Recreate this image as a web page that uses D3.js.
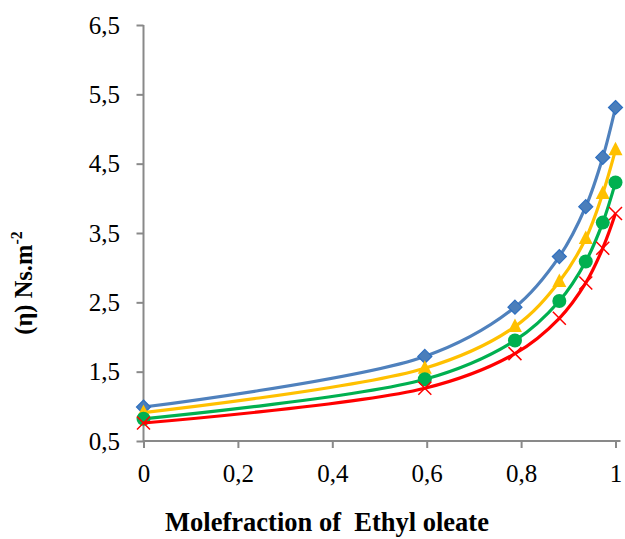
<!DOCTYPE html>
<html>
<head>
<meta charset="utf-8">
<script src="https://cdn.jsdelivr.net/npm/d3@7"></script>
<style>
  html, body { margin: 0; padding: 0; background: #fff; }
  svg { display: block; }
  text { font-family: "Liberation Serif", "Times New Roman", serif; fill: #000; }
</style>
</head>
<body>
<div id="chart"></div>
<script>
// mole fraction of ethyl oleate
const moleFraction = [0, 0.596, 0.787, 0.881, 0.937, 0.973, 1];

// viscosity series
const seriesBlue   = [0.99, 1.72, 2.43, 3.16, 3.88, 4.59, 5.31];
const seriesYellow = [0.91, 1.55, 2.15, 2.80, 3.42, 4.07, 4.70];
const seriesGreen  = [0.82, 1.39, 1.95, 2.52, 3.09, 3.65, 4.23];
const seriesRed    = [0.76, 1.26, 1.76, 2.27, 2.78, 3.28, 3.78];

const xTicks = [0, 0.2, 0.4, 0.6, 0.8, 1];
const yTicks = [0.5, 1.5, 2.5, 3.5, 4.5, 5.5, 6.5];

const width = 625, height = 539;
const margin = { top: 25, right: 9.5, bottom: 98, left: 143.5 };

const svg = d3.select('#chart').append('svg')
  .attr('width', width)
  .attr('height', height);

const x = d3.scaleLinear()
  .domain([0, 1])
  .range([margin.left, width - margin.right]);

const y = d3.scaleLinear()
  .domain([0.5, 6.5])
  .range([height - margin.bottom, margin.top]);

const comma = d => String(d).replace('.', ',');
const axisColor = '#898989';

// x axis
const gx = svg.append('g')
  .attr('transform', `translate(0,${y(0.5)})`)
  .call(d3.axisBottom(x).tickValues(xTicks).tickFormat(comma).tickSize(7).tickSizeOuter(0).tickPadding(16));

// y axis
const gy = svg.append('g')
  .attr('transform', `translate(${x(0)},0)`)
  .call(d3.axisLeft(y).tickValues(yTicks).tickFormat(comma).tickSize(7).tickSizeOuter(0).tickPadding(16.5));

for (const g of [gx, gy]) {
  g.select('.domain').attr('stroke', axisColor).attr('stroke-width', 2);
  g.selectAll('.tick line').attr('stroke', axisColor).attr('stroke-width', 2);
  g.selectAll('.tick text')
    .style('font-family', '"Liberation Serif", "Times New Roman", serif')
    .style('font-size', '25px')
    .attr('fill', '#000');
}
// axis line runs a little past 1 like in the original
gx.select('.domain').attr('d', `M${x(0)},0H${x(1) + 5}`);
gy.select('.domain').attr('d', `M0,${y(6.5)}V${y(0.5)}`);

// axis titles
svg.append('text')
  .attr('x', 327)
  .attr('y', 531)
  .attr('text-anchor', 'middle')
  .style('font-weight', 'bold')
  .style('font-size', '26.5px')
  .style('white-space', 'pre')
  .text('Molefraction of  Ethyl oleate');

const yTitle = svg.append('text')
  .attr('transform', 'translate(32,283) rotate(-90)')
  .attr('text-anchor', 'middle')
  .style('font-weight', 'bold')
  .style('font-size', '24.5px');
yTitle.append('tspan').text('(η) Ns.m');
yTitle.append('tspan').attr('dy', -10).style('font-size', '16px').text('-2');

const series = [
  { values: seriesBlue,   color: '#4F81BD', marker: 'diamond' },
  { values: seriesYellow, color: '#FFC000', marker: 'triangle' },
  { values: seriesGreen,  color: '#00B050', marker: 'circle' },
  { values: seriesRed,    color: '#FF0000', marker: 'cross' },
];

const line = d3.line()
  .x(d => x(d[0]))
  .y(d => y(d[1]))
  .curve(d3.curveCatmullRom);

for (const s of series) {
  const pts = moleFraction.map((m, i) => [m, s.values[i]]);
  const g = svg.append('g');
  g.append('path')
    .datum(pts)
    .attr('fill', 'none')
    .attr('stroke', s.color)
    .attr('stroke-width', 3.2)
    .attr('d', line);

  const m = g.selectAll('g.mk')
    .data(pts)
    .join('g')
    .attr('class', 'mk')
    .attr('transform', d => `translate(${x(d[0])},${y(d[1])})`);

  if (s.marker === 'diamond') {
    m.append('path')
      .attr('d', 'M0,-7L7,0L0,7L-7,0Z')
      .attr('fill', '#4A7EBB')
      .attr('stroke', '#2E6FC0')
      .attr('stroke-width', 1.2);
  } else if (s.marker === 'triangle') {
    m.append('path')
      .attr('d', 'M0,-8L7,5.5L-7,5.5Z')
      .attr('fill', s.color);
  } else if (s.marker === 'circle') {
    m.append('circle')
      .attr('r', 7)
      .attr('fill', s.color);
  } else {
    m.append('path')
      .attr('d', 'M-6.5,-6.5L6.5,6.5M-6.5,6.5L6.5,-6.5')
      .attr('stroke', s.color)
      .attr('stroke-width', 1.5);
  }
}
</script>
</body>
</html>
